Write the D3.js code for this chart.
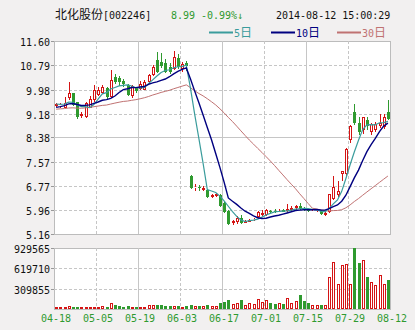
<!DOCTYPE html>
<html>
<head>
<meta charset="utf-8">
<script src="https://cdn.jsdelivr.net/npm/d3@7"></script>
<style>
body { margin: 0; background: #f2f0f0; }
svg { display: block; }
</style>
</head>
<body>
<svg id="chart" width="415" height="330"></svg>
<script>
// daily bars, 04-18 .. 08-12
var open  = [9.44,9.42,9.38,9.69,9.85,9.55,9.10,9.05,9.38,9.62, 9.79,9.86,10.02,9.72,10.39,10.36,10.25,10.12,9.75,10.02,
             10.00,9.98,10.22,10.46,10.96,10.90,10.86,10.74,10.68,11.03, 10.65,10.85,7.10,6.68,6.73,6.62,6.62,6.39,6.44,6.45,
             6.20,5.93,5.52,5.55,5.70,5.54,5.57,5.62,5.72,5.80, 5.78,5.92,5.94,5.91,5.95,5.93,5.95,6.02,6.10,6.02,
             5.98,5.90,5.92,5.94,5.80,5.89,6.32,6.45,7.15,7.15, 8.28,9.22,8.85,8.62,8.95,8.55,8.62,8.75,8.72,9.22];
var high  = [9.53,9.52,9.72,10.22,9.88,9.58,9.22,9.55,9.78,10.12, 10.05,10.12,10.08,10.63,10.50,10.42,10.32,10.15,10.14,10.08,
             10.25,10.30,10.50,10.80,11.24,11.20,11.00,10.85,11.25,11.15, 10.90,10.92,7.12,6.82,6.80,6.75,6.65,6.50,6.54,6.48,
             6.25,5.96,5.62,5.75,5.78,5.64,5.66,5.70,5.92,5.95, 6.00,5.96,5.98,5.98,5.98,6.15,6.10,6.12,6.18,6.05,
             6.00,5.97,5.98,5.97,5.90,6.50,7.10,6.94,7.27,8.02, 8.80,9.51,9.05,9.08,9.05,8.88,8.90,9.15,9.15,9.62];
var low   = [9.41,9.38,9.36,9.62,9.42,9.00,9.02,9.02,9.35,9.58, 9.75,9.83,9.68,9.70,10.15,10.10,10.08,9.75,9.70,9.88,
             9.96,9.95,10.18,10.42,10.52,10.70,10.52,10.50,10.62,10.68, 10.55,10.60,6.65,6.60,6.58,6.58,6.35,6.36,6.40,6.05,
             5.85,5.45,5.45,5.50,5.48,5.52,5.55,5.58,5.68,5.76, 5.75,5.86,5.86,5.88,5.88,5.90,5.92,5.97,5.96,5.93,
             5.90,5.88,5.88,5.80,5.76,5.85,6.28,6.40,6.92,7.10, 8.20,8.80,8.45,8.50,8.62,8.48,8.55,8.70,8.68,8.95];
var close = [9.49,9.47,9.52,9.85,9.45,9.05,9.18,9.52,9.68,9.96, 9.96,10.06,9.72,10.29,10.22,10.22,10.15,9.80,10.10,9.93,
             10.18,10.22,10.45,10.74,10.57,10.75,10.57,10.57,11.07,10.74, 10.82,10.75,6.70,6.74,6.70,6.68,6.38,6.47,6.50,6.10,
             5.88,5.48,5.58,5.70,5.52,5.60,5.62,5.67,5.88,5.85, 5.95,5.90,5.91,5.94,5.91,5.99,6.03,6.08,6.00,5.98,
             5.93,5.94,5.95,5.82,5.86,6.48,6.72,6.60,7.25,8.00, 8.78,8.85,8.55,9.05,8.78,8.82,8.82,8.88,9.08,8.99];
var volume = [31000,31000,31000,46000,31000,31000,31000,31000,31000,31000, 31000,46000,31000,92000,61000,46000,31000,46000,31000,31000,
              31000,31000,61000,61000,61000,61000,51000,51000,51000,51000, 31000,51000,61000,41000,41000,41000,61000,46000,46000,92000,
              112000,138000,77000,87000,138000,61000,87000,77000,153000,107000, 138000,92000,77000,92000,77000,169000,92000,123000,214000,123000,
              92000,61000,61000,61000,61000,490000,715000,378000,674000,684000, 378000,929565,705000,746000,490000,409000,368000,521000,378000,444000];
// closes before the first bar, used to start the moving averages
var priorCloses = [9.15,9.22,9.30,9.28,9.35,9.26,9.18,9.20,9.25,9.32, 9.40,9.36,9.30,9.27,9.33,9.38,9.42,9.35,9.28,9.30,
                   9.22,9.18,9.25,9.33,9.38,9.52,9.47,9.55,9.46];

var priceTicks = ["11.60","10.79","9.98","9.18","8.38","7.57","6.77","5.96","5.16"];
var volumeTicks = ["929565","619710","309855"];
var dateTicks = ["04-18","05-05","05-19","06-03","06-17","07-01","07-15","07-29","08-12"];

var red = "#d41414", green = "#2f9a2f", grid = "#c6c6c6",
    c5 = "#3a9c9c", c10 = "#000080", c30 = "#c07272";
var mono = "'DejaVu Sans Mono', 'Liberation Mono', monospace",
    cjk = "'Noto Sans CJK SC', sans-serif";

var plot = {left: 54, right: 390, top: 41, bottom: 234},
    vpan = {top: 248, bottom: 309};

var n = close.length;
var x = d3.scaleLinear().domain([0, n]).range([plot.left, plot.right]);
var y = d3.scaleLinear().domain([5.16, 11.60]).range([plot.bottom, plot.top]);
var yv = d3.scaleLinear().domain([0, 929565]).range([vpan.bottom, vpan.top]);

function cx(i) { return Math.round(x(i + 0.5)) + 0.5; }

// moving averages over closes
var allCloses = priorCloses.concat(close);
function movingAvg(len) {
    return close.map(function(d, i) {
        var end = i + priorCloses.length + 1;
        return d3.mean(allCloses.slice(end - len, end));
    });
}
var ma5 = movingAvg(5), ma10 = movingAvg(10), ma30 = movingAvg(30);

var svg = d3.select('#chart');

// panels
[[plot.top, plot.bottom], [vpan.top, vpan.bottom]].forEach(function(p) {
    svg.append('rect')
        .attr('x', plot.left + 0.5).attr('y', p[0] + 0.5)
        .attr('width', plot.right - plot.left).attr('height', p[1] - p[0])
        .attr('fill', '#fff').attr('stroke', '#bcbcbc');
});

var gridG = svg.append('g').attr('shape-rendering', 'crispEdges');
// vertical grid, every 10 bars
d3.range(1, 8).forEach(function(k) {
    [[plot.top, plot.bottom], [vpan.top, vpan.bottom]].forEach(function(p) {
        gridG.append('line')
            .attr('x1', Math.round(x(k * 10)) + 0.5).attr('x2', Math.round(x(k * 10)) + 0.5)
            .attr('y1', p[0]).attr('y2', p[1])
            .attr('stroke', grid)
            .attr('stroke-dasharray', k % 2 ? '3,2' : null);
    });
});
// horizontal price grid
priceTicks.forEach(function(t, k) {
    var yy = Math.round(y(+t)) + 0.5;
    if (k > 0 && k < priceTicks.length - 1) {
        gridG.append('line')
            .attr('x1', plot.left).attr('x2', plot.right)
            .attr('y1', yy).attr('y2', yy)
            .attr('stroke', grid)
            .attr('stroke-dasharray', k === 4 ? null : '3,2');
    }
    gridG.append('line')
        .attr('x1', plot.left - 3).attr('x2', plot.left)
        .attr('y1', yy).attr('y2', yy).attr('stroke', '#999');
    svg.append('text')
        .attr('x', 50).attr('y', yy + 4)
        .attr('text-anchor', 'end')
        .style('font', '10px ' + mono).attr('fill', '#111')
        .text(t);
});
// volume grid
volumeTicks.forEach(function(t, k) {
    var yy = Math.round(yv(+t)) + 0.5;
    if (k > 0) {
        gridG.append('line')
            .attr('x1', plot.left).attr('x2', plot.right)
            .attr('y1', yy).attr('y2', yy)
            .attr('stroke', grid).attr('stroke-dasharray', '3,2');
    }
    gridG.append('line')
        .attr('x1', plot.left - 3).attr('x2', plot.left)
        .attr('y1', yy).attr('y2', yy).attr('stroke', '#999');
    svg.append('text')
        .attr('x', 50).attr('y', yy + 4)
        .attr('text-anchor', 'end')
        .style('font', '10px ' + mono).attr('fill', '#111')
        .text(t);
});

// date labels
dateTicks.forEach(function(t, k) {
    svg.append('text')
        .attr('x', x(k * 10 + 0.5)).attr('y', 322)
        .attr('text-anchor', 'middle')
        .style('font', '10px ' + mono).attr('fill', green)
        .text(t);
});

// candles
var bars = d3.range(n).map(function(i) {
    return {i: i, o: open[i], h: high[i], l: low[i], c: close[i], v: volume[i], up: close[i] >= open[i]};
});
var candleG = svg.append('g').attr('shape-rendering', 'crispEdges');
bars.forEach(function(d) {
    var xc = cx(d.i);
    var top = Math.round(y(Math.max(d.o, d.c))), bot = Math.round(y(Math.min(d.o, d.c)));
    if (bot - top < 1) bot = top + 1;
    var col = d.up ? red : green;
    if (d.up) {
        candleG.append('line').attr('x1', xc).attr('x2', xc)
            .attr('y1', y(d.h)).attr('y2', top).attr('stroke', col);
        candleG.append('line').attr('x1', xc).attr('x2', xc)
            .attr('y1', bot).attr('y2', y(d.l)).attr('stroke', col);
        candleG.append('rect')
            .attr('x', xc - 1).attr('y', top + 0.5)
            .attr('width', 2).attr('height', Math.max(bot - top - 1, 0))
            .attr('fill', '#fff').attr('stroke', col);
    } else {
        candleG.append('line').attr('x1', xc).attr('x2', xc)
            .attr('y1', y(d.h)).attr('y2', y(d.l)).attr('stroke', col);
        candleG.append('rect')
            .attr('x', xc - 1.5).attr('y', top)
            .attr('width', 3).attr('height', bot - top)
            .attr('fill', col);
    }
});

// volume bars
bars.forEach(function(d) {
    var xc = cx(d.i), top = Math.round(yv(d.v));
    if (d.up) {
        candleG.append('rect')
            .attr('x', xc - 1).attr('y', top + 0.5)
            .attr('width', 2).attr('height', Math.max(vpan.bottom - top - 1, 0))
            .attr('fill', '#fff').attr('stroke', red);
    } else {
        candleG.append('rect')
            .attr('x', xc - 1.5).attr('y', top)
            .attr('width', 3).attr('height', vpan.bottom - top)
            .attr('fill', green);
    }
});

// moving average lines
var line = d3.line().x(function(d, i) { return x(i + 0.5); }).y(function(d) { return y(d); });
[[ma30, c30, 1], [ma5, c5, 1.2], [ma10, c10, 1.4]].forEach(function(m) {
    svg.append('path').datum(m[0])
        .attr('d', line)
        .attr('fill', 'none')
        .attr('stroke', m[1])
        .attr('stroke-width', m[2]);
});

// header
var head = svg.append('text').attr('x', 55).attr('y', 19).attr('fill', '#111');
head.append('tspan').style('font', '12px ' + cjk).text('北化股份');
head.append('tspan').style('font', '10px ' + mono).text('[002246]');
svg.append('text').attr('x', 171).attr('y', 19)
    .style('font', '10px ' + mono).attr('fill', green).text('8.99');
svg.append('text').attr('x', 201).attr('y', 19)
    .style('font', '10px ' + mono).attr('fill', green).text('-0.99%↓');
svg.append('text').attr('x', 276).attr('y', 19)
    .style('font', '10px ' + mono).attr('fill', '#111').text('2014-08-12 15:00:29');

// legend
var legend = [
    {label: '5', color: c5, x: 209},
    {label: '10', color: c10, x: 271},
    {label: '30', color: c30, x: 337}
];
legend.forEach(function(d) {
    svg.append('line')
        .attr('x1', d.x).attr('x2', d.x + 24)
        .attr('y1', 32.5).attr('y2', 32.5)
        .attr('stroke', d.color).attr('stroke-width', 2);
    var t = svg.append('text').attr('x', d.x + 25).attr('y', 37).attr('fill', d.color);
    t.append('tspan').style('font', '10px ' + mono).text(d.label);
    t.append('tspan').style('font', '12px ' + cjk).text('日');
});
</script>
</body>
</html>
